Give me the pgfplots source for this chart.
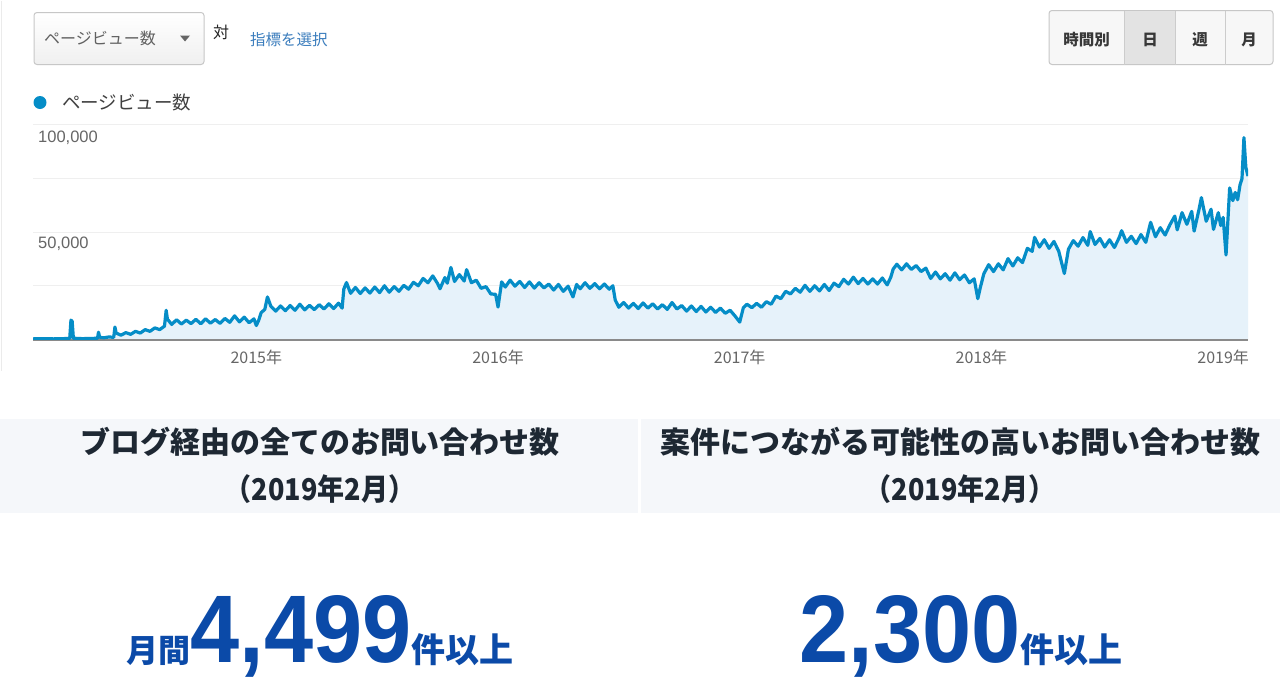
\documentclass[border=0pt]{standalone}
\usepackage{pgfplots}
\pgfplotsset{compat=1.18}
\usepackage{pgfplotstable}
\usepackage{graphicx}
\usepackage{fontspec}
\setmainfont{Liberation Sans}
\newfontfamily\jp{Noto Sans CJK JP}
\newcommand\fs[1]{\fontsize{#1}{#1}\selectfont}
\definecolor{gablue}{HTML}{058DC7}
\definecolor{gafill}{HTML}{E6F2FA}
\definecolor{gridc}{HTML}{EFEFEF}
\definecolor{axisc}{HTML}{8A8A8A}
\definecolor{lblc}{HTML}{666666}
\definecolor{numblue}{HTML}{0B4AA8}
\definecolor{headc}{HTML}{1E2833}
\definecolor{bandc}{HTML}{F5F7FA}
\definecolor{linkc}{HTML}{3B7DBD}

\pgfplotstableread{
t v
2014.076 0.3
2014.12 0.4
2014.16 0.3
2014.20 0.4
2014.228 0.5
2014.233 9.0
2014.238 8.5
2014.243 0.6
2014.28 0.4
2014.32 0.5
2014.343 0.6
2014.347 3.4
2014.352 1.0
2014.37 0.8
2014.39 1.2
2014.41 1.0
2014.415 5.8
2014.42 3.0
2014.44 2.0
2014.46 3.2
2014.48 2.4
2014.50 3.8
2014.52 3.0
2014.54 4.6
2014.56 3.8
2014.58 5.4
2014.60 4.6
2014.62 6.2
2014.627 13.6
2014.632 9.5
2014.65 7.0
2014.67 9.2
2014.69 7.2
2014.71 9.0
2014.73 7.4
2014.75 9.4
2014.77 7.3
2014.79 9.6
2014.81 7.6
2014.83 9.3
2014.85 7.5
2014.87 9.8
2014.89 8.0
2014.91 11.0
2014.93 8.2
2014.95 10.4
2014.97 7.8
2014.99 9.6
2015.00 6.5
2015.01 9.0
2015.02 12.5
2015.035 14.0
2015.046 19.8
2015.06 15.5
2015.08 13.2
2015.10 15.6
2015.12 13.4
2015.14 15.8
2015.16 13.6
2015.18 16.4
2015.20 13.8
2015.22 15.9
2015.24 13.9
2015.26 16.2
2015.28 14.2
2015.30 16.6
2015.32 14.4
2015.34 16.9
2015.355 14.6
2015.362 23.5
2015.373 26.5
2015.39 21.5
2015.41 24.2
2015.43 21.4
2015.45 24.0
2015.47 21.6
2015.49 24.4
2015.51 21.8
2015.53 25.0
2015.55 22.0
2015.57 24.6
2015.59 22.4
2015.61 25.2
2015.63 23.4
2015.65 26.6
2015.67 25.0
2015.69 28.4
2015.71 26.4
2015.73 29.6
2015.75 26.0
2015.76 23.6
2015.78 28.8
2015.79 26.2
2015.805 33.5
2015.82 27.0
2015.84 30.2
2015.86 27.2
2015.87 32.5
2015.89 26.4
2015.91 27.6
2015.93 23.8
2015.95 24.6
2015.97 21.2
2015.99 21.0
2016.00 15.1
2016.015 26.8
2016.03 24.4
2016.05 27.6
2016.07 24.8
2016.09 27.0
2016.11 24.2
2016.13 26.8
2016.15 23.9
2016.17 26.4
2016.19 24.0
2016.21 25.8
2016.23 23.0
2016.25 25.6
2016.27 22.4
2016.29 24.8
2016.31 19.8
2016.325 25.6
2016.34 23.6
2016.36 26.4
2016.38 23.8
2016.40 26.0
2016.42 23.6
2016.44 25.8
2016.46 23.4
2016.475 25.0
2016.485 18.3
2016.50 15.0
2016.52 17.2
2016.54 14.6
2016.56 16.8
2016.58 14.4
2016.60 17.0
2016.62 14.6
2016.64 16.6
2016.66 14.2
2016.68 16.2
2016.70 14.0
2016.72 17.2
2016.74 14.2
2016.76 15.8
2016.78 13.2
2016.80 15.6
2016.82 13.0
2016.84 15.4
2016.86 12.8
2016.88 15.0
2016.90 12.6
2016.92 14.6
2016.94 12.2
2016.96 13.6
2016.98 11.0
2017.00 8.1
2017.015 14.8
2017.03 16.4
2017.05 14.8
2017.07 16.8
2017.09 15.0
2017.11 17.6
2017.13 16.4
2017.15 20.2
2017.17 19.0
2017.19 22.4
2017.21 21.2
2017.23 23.8
2017.25 22.0
2017.27 25.2
2017.29 22.4
2017.31 25.0
2017.33 22.6
2017.35 25.6
2017.37 22.8
2017.39 26.2
2017.41 24.6
2017.43 28.0
2017.45 25.8
2017.47 29.0
2017.49 26.0
2017.51 28.4
2017.53 25.8
2017.55 28.2
2017.57 25.8
2017.59 28.6
2017.61 25.4
2017.625 29.0
2017.635 32.8
2017.65 35.0
2017.67 32.4
2017.69 35.2
2017.71 32.6
2017.73 34.4
2017.75 31.6
2017.77 33.2
2017.79 28.4
2017.81 31.4
2017.83 28.2
2017.85 30.6
2017.87 27.6
2017.89 31.0
2017.91 27.8
2017.93 30.0
2017.95 26.4
2017.97 28.2
2017.985 19.0
2017.995 24.0
2018.01 30.6
2018.03 34.8
2018.05 31.6
2018.07 35.2
2018.09 32.4
2018.11 37.6
2018.13 34.2
2018.15 38.0
2018.17 35.8
2018.19 42.4
2018.21 41.0
2018.22 47.5
2018.24 43.0
2018.26 46.4
2018.28 42.4
2018.30 45.6
2018.32 41.0
2018.343 30.7
2018.36 42.0
2018.38 46.0
2018.40 43.4
2018.42 47.4
2018.44 43.8
2018.45 50.2
2018.47 44.2
2018.49 47.0
2018.51 43.0
2018.53 46.4
2018.55 42.8
2018.57 47.4
2018.58 50.6
2018.60 45.2
2018.62 48.0
2018.64 44.6
2018.66 48.8
2018.68 45.2
2018.70 54.5
2018.72 47.8
2018.74 52.0
2018.76 48.6
2018.78 53.4
2018.80 57.4
2018.81 51.0
2018.83 59.0
2018.85 53.6
2018.87 59.6
2018.88 50.4
2018.90 60.4
2018.91 66.0
2018.93 55.0
2018.95 60.6
2018.96 51.2
2018.98 59.0
2018.99 53.0
2019.00 56.8
2019.012 39.3
2019.027 70.5
2019.04 64.6
2019.05 68.4
2019.06 65.0
2019.07 72.0
2019.078 74.8
2019.086 93.9
2019.094 80.0
2019.103 76.0
}\pv

\begin{document}
\begin{tikzpicture}
\begin{scope}[x=1pt,y=-1pt]
\fill[white] (0,0) rectangle (1280,680);
\draw[black!8, line width=1pt] (1.5,0) -- (1.5,370);
% dropdown
\draw[black!22, line width=1pt, rounded corners=3pt, top color=white, bottom color=black!6] (34,12) rectangle (204,64);
\node[anchor=west, inner sep=0, text=black!62] at (44,38) {\jp\fs{16}ページビュー数};
\fill[black!60] (180,35) -- (190,35) -- (185,41) -- cycle;
\node[inner sep=0, text=black!85] at (221,32) {\jp\fs{16}対};
\node[anchor=west, inner sep=0, text=linkc] at (250,39) {\jp\fs{15.5}指標を選択};
% buttons
\draw[black!22, line width=1pt, rounded corners=3pt, fill=black!3] (1049,10) rectangle (1273,64);
\fill[black!11] (1124.5,10.5) rectangle (1175,63.5);
\draw[black!20, line width=1pt] (1124.5,10) -- (1124.5,64) (1175,10) -- (1175,64) (1225,10) -- (1225,64);
\node[inner sep=0, text=black!78] at (1086.5,39) {\jp\bfseries\fs{15.5}時間別};
\node[inner sep=0, text=black!78] at (1150,39) {\jp\bfseries\fs{15.5}日};
\node[inner sep=0, text=black!78] at (1200,39) {\jp\bfseries\fs{15.5}週};
\node[inner sep=0, text=black!78] at (1249,39) {\jp\bfseries\fs{15.5}月};
% legend
\fill[gablue] (40,102) circle[radius=6.5pt];
\node[anchor=west, inner sep=0, text=black!75] at (62,102) {\jp\fs{18.5}ページビュー数};
% lower panels
\fill[bandc] (0,418) rectangle (638,512);
\fill[bandc] (641,418) rectangle (1280,512);
\node[inner sep=0, text=headc] at (320,441) {\jp\bfseries\fs{30}ブログ経由の全てのお問い合わせ数};
\node[inner sep=0, text=headc] at (320,489) {\jp\bfseries\fs{30}\scalebox{0.9}[1]{（2019年2月）}};
\node[inner sep=0, text=headc] at (960,441) {\jp\bfseries\fs{30}案件につながる可能性の高いお問い合わせ数};
\node[inner sep=0, text=headc] at (960,489) {\jp\bfseries\fs{30}\scalebox{0.9}[1]{（2019年2月）}};
\node[anchor=base, inner sep=0, text=numblue] at (320,662) {\jp\bfseries\fs{32}月間\normalfont\bfseries\fs{96}\scalebox{0.92}[1]{4,499}\jp\bfseries\fs{34}件以上};
\node[anchor=base, inner sep=0, text=numblue] at (961,662) {\normalfont\bfseries\fs{96}\scalebox{0.92}[1]{2,300}\jp\bfseries\fs{34}件以上};
\end{scope}
\begin{axis}[
  at={(33pt,-339pt)}, anchor=south west,
  scale only axis, width=1215pt, height=215pt,
  xmin=2014.076, xmax=2019.103, ymin=0, ymax=100,
  axis line style={draw=none},
  clip mode=individual,
  xtick={2015,2016,2017,2018,2019},
  xticklabels={2015年,2016年,2017年,2018年,2019年},
  ytick={25,50,75,100}, yticklabels={},
  major tick length=0pt,
  ymajorgrids, grid style={draw=gridc, line width=1pt},
  xticklabel style={font=\jp\fs{16}, text=lblc, anchor=center, yshift=-17.5pt},
]
\addplot[fill=gafill, draw=none] table[x=t,y=v] {\pv} \closedcycle;
\draw[axisc, line width=2pt] (rel axis cs:0,0) -- (rel axis cs:1,0);
\addplot[gablue, line width=3.2pt, line join=round, mark=none] table[x=t,y=v] {\pv};
\node[anchor=north west, inner sep=0, text=lblc, font=\fs{16.5}] at (rel axis cs:0,1) [xshift=5pt, yshift=-6pt] {100,000};
\node[anchor=north west, inner sep=0, text=lblc, font=\fs{16.5}] at (axis cs:2014.076,50) [xshift=5pt, yshift=-5pt] {50,000};
\end{axis}
\end{tikzpicture}
\end{document}
